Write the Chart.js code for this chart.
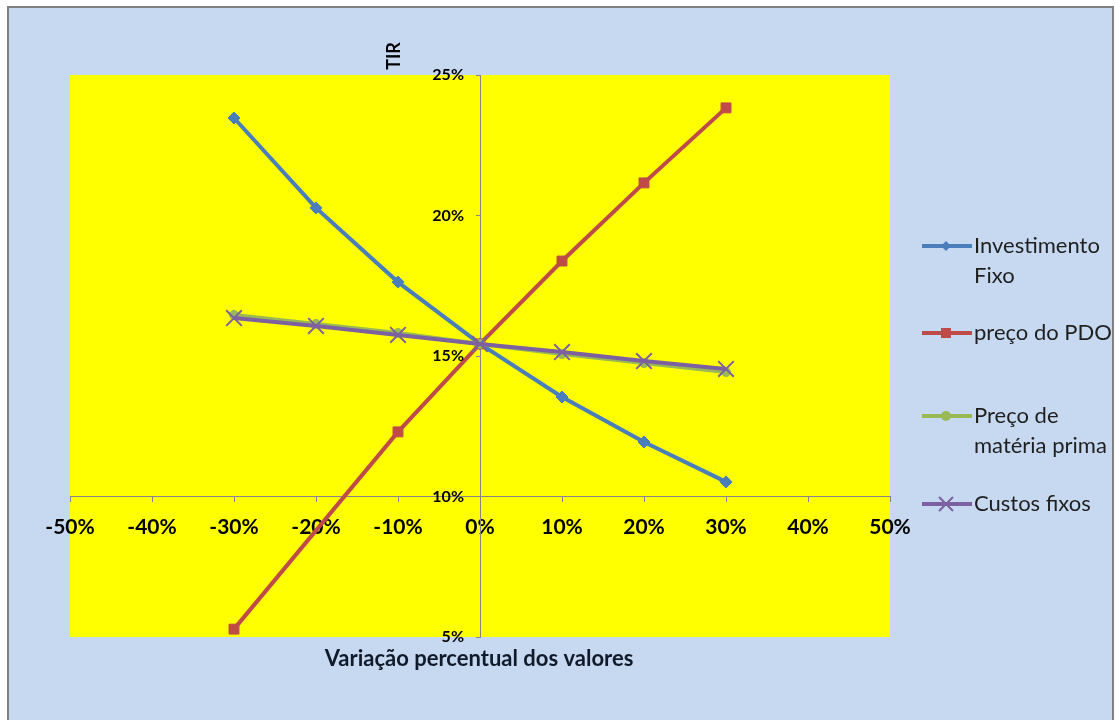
<!DOCTYPE html>
<html>
<head>
<meta charset="utf-8">
<script src="https://cdn.jsdelivr.net/npm/chart.js@4.4.1/dist/chart.umd.min.js"></script>
<style>
  html, body { margin: 0; padding: 0; background: #ffffff; }
  #wrap { width: 1115px; height: 720px; }
  canvas { display: block; }
</style>
</head>
<body>
<div id="wrap"><canvas id="c" width="1115" height="720"></canvas></div>
<script>
// Variação percentual (eixo X) e TIR resultante (%) por variável
const variacao = [-30, -20, -10, 0, 10, 20, 30];
const investimentoFixo = [23.47, 20.27, 17.63, 15.43, 13.54, 11.94, 10.52];
const precoPDO = [5.28, null, 12.30, 15.43, 18.38, 21.16, 23.83];
const precoMateriaPrima = [16.46, 16.14, 15.82, 15.43, 15.07, 14.75, 14.43];
const custosFixos = [16.35, 16.07, 15.75, 15.43, 15.14, 14.82, 14.54];

const nomes = ['Investimento Fixo', 'preço do PDO', 'Preço de matéria prima', 'Custos fixos'];
const legendaLinhas = [['Investimento', 'Fixo'], ['preço do PDO'], ['Preço de', 'matéria prima'], ['Custos fixos']];

const xTicks = [-50, -40, -30, -20, -10, 0, 10, 20, 30, 40, 50];
const yTicks = [5, 10, 15, 20, 25];

const FONT = 'Lato, "Open Sans", sans-serif';
const AXIS_COLOR = '#868686';

function pontos(valores) {
  return variacao.map((x, i) => ({ x: x, y: valores[i] }));
}

const series = [
  { label: nomes[0], data: pontos(investimentoFixo), color: '#4a7ebb', marker: 'rectRot', r: 6, order: 4 },
  { label: nomes[1], data: pontos(precoPDO), color: '#be4b48', marker: 'rect', r: 7, order: 3 },
  { label: nomes[2], data: pontos(precoMateriaPrima), color: '#98b954', marker: 'circle', r: 4.5, order: 2 },
  { label: nomes[3], data: pontos(custosFixos), color: '#7d60a0', marker: 'crossRot', r: 11, order: 1 }
];

const datasets = series.map(s => ({
  label: s.label,
  data: s.data,
  borderColor: s.color,
  backgroundColor: s.color,
  pointBackgroundColor: s.color,
  pointBorderColor: s.color,
  pointStyle: s.marker,
  pointRadius: s.r,
  pointHoverRadius: s.r,
  pointBorderWidth: s.marker === 'crossRot' ? 2 : 1,
  borderWidth: 4,
  showLine: true,
  spanGaps: true,
  tension: 0,
  order: s.order
}));

// Fundo azul com moldura e área de plotagem amarela
const fundo = {
  id: 'fundo',
  beforeDraw(chart) {
    const ctx = chart.ctx;
    const a = chart.chartArea;
    ctx.save();
    ctx.fillStyle = '#ffffff';
    ctx.fillRect(0, 0, chart.width, chart.height);
    ctx.fillStyle = '#c6d9f1';
    ctx.fillRect(8, 7, 1105, 713);
    ctx.strokeStyle = '#7f7f7f';
    ctx.lineWidth = 2;
    ctx.strokeRect(8, 7, 1105, 716);
    ctx.fillStyle = '#ffff00';
    ctx.fillRect(a.left, a.top, a.right - a.left, a.bottom - a.top);
    ctx.restore();
  }
};

// Rótulos do eixo Y à esquerda do eixo, títulos dos eixos e legenda
const rotulos = {
  id: 'rotulos',
  afterDraw(chart) {
    const ctx = chart.ctx;
    const ys = chart.scales.y;
    const xs = chart.scales.x;
    const eixoX = xs.getPixelForValue(0);
    ctx.save();

    ctx.fillStyle = '#000000';
    ctx.font = 'bold 16px ' + FONT;
    ctx.textAlign = 'right';
    ctx.textBaseline = 'middle';
    yTicks.forEach(v => ctx.fillText(v + '%', eixoX - 16, ys.getPixelForValue(v)));

    ctx.fillStyle = '#111a2a';
    ctx.font = 'bold 22px ' + FONT;
    ctx.textAlign = 'center';
    ctx.fillText('Variação percentual dos valores', 479, 659);

    ctx.save();
    ctx.translate(394, 56);
    ctx.rotate(-Math.PI / 2);
    ctx.font = 'bold 18px ' + FONT;
    ctx.fillStyle = '#000000';
    ctx.fillText('TIR', 0, 0);
    ctx.restore();

    const linhaY = [246, 333, 416, 504];
    ctx.font = '22px ' + FONT;
    ctx.textAlign = 'left';
    series.forEach((s, i) => {
      const y = linhaY[i];
      ctx.strokeStyle = s.color;
      ctx.lineWidth = 4;
      ctx.beginPath();
      ctx.moveTo(922, y);
      ctx.lineTo(972, y);
      ctx.stroke();
      ctx.fillStyle = s.color;
      ctx.strokeStyle = s.color;
      const cx = 946;
      ctx.beginPath();
      if (s.marker === 'rectRot') {
        ctx.moveTo(cx - 5, y); ctx.lineTo(cx, y - 5); ctx.lineTo(cx + 5, y); ctx.lineTo(cx, y + 5); ctx.closePath(); ctx.fill();
      } else if (s.marker === 'rect') {
        ctx.rect(cx - 5, y - 5, 10, 10); ctx.fill();
      } else if (s.marker === 'circle') {
        ctx.arc(cx, y, 5, 0, Math.PI * 2); ctx.fill();
      } else {
        ctx.lineWidth = 2;
        ctx.moveTo(cx - 7, y - 7); ctx.lineTo(cx + 7, y + 7);
        ctx.moveTo(cx + 7, y - 7); ctx.lineTo(cx - 7, y + 7); ctx.stroke();
      }
      ctx.fillStyle = '#1f1f1f';
      legendaLinhas[i].forEach((t, k) => ctx.fillText(t, 974, y + k * 30));
    });
    ctx.restore();
  }
};

new Chart(document.getElementById('c'), {
  type: 'scatter',
  data: { datasets: datasets },
  options: {
    responsive: false,
    animation: false,
    devicePixelRatio: 1,
    layout: { padding: { left: 70, top: 75, right: 225, bottom: 83 } },
    plugins: { legend: { display: false }, tooltip: { enabled: false } },
    scales: {
      x: {
        type: 'linear',
        min: -50, max: 50,
        position: { y: 10 },
        afterBuildTicks: sc => { sc.ticks = xTicks.map(v => ({ value: v })); },
        ticks: {
          callback: v => v + '%',
          color: '#000000',
          font: { family: FONT, size: 21, weight: 'bold' },
          padding: 13,
          maxRotation: 0,
          autoSkip: false
        },
        grid: { drawOnChartArea: false, drawTicks: true, tickLength: 5, color: AXIS_COLOR },
        border: { display: true, color: AXIS_COLOR, width: 1 }
      },
      y: {
        type: 'linear',
        min: 5, max: 25,
        position: { x: 0 },
        afterBuildTicks: sc => { sc.ticks = yTicks.map(v => ({ value: v })); },
        ticks: {
          display: false,
          callback: v => v + '%'
        },
        grid: { drawOnChartArea: false, drawTicks: true, tickLength: 4, color: AXIS_COLOR },
        border: { display: true, color: AXIS_COLOR, width: 1 }
      }
    }
  },
  plugins: [fundo, rotulos]
});
</script>
</body>
</html>
